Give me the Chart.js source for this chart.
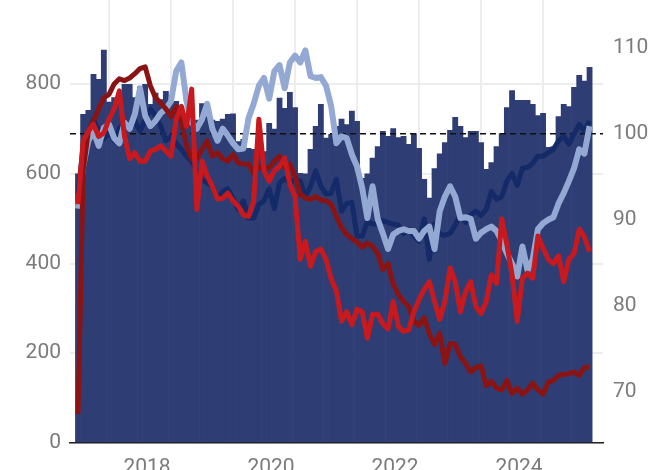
<!DOCTYPE html>
<html>
<head>
<meta charset="utf-8">
<script src="https://cdn.jsdelivr.net/npm/chart.js@4.4.1/dist/chart.umd.min.js"></script>
<style>
  html, body { margin: 0; padding: 0; background: #fff; overflow: hidden; }
  body { width: 664px; height: 470px; position: relative; }
  #wrap { position: absolute; left: 0; top: -28px; width: 664px; height: 520px; }
</style>
</head>
<body>
<div id="wrap"><canvas id="chart"></canvas></div>
<script>
// monthly data, Jan 2017 .. Apr 2025 (index 0 = Jan 2017)
const startYear = 2017;
const yearLabels = ["2018", "2020", "2022", "2024"];
const leftTicks = [0, 200, 400, 600, 800, 1000];
const rightTicks = [70, 80, 90, 100, 110];
const refLevel = 100;

// bars, left axis
const bars = [
  600, 733, 742, 822, 811, 876, 760, 770, 780, 800,
  800, 770, 795, 800, 755, 780, 766, 784, 762, 762,
  750, 730, 745, 720, 757, 728, 720, 717, 722, 733,
  734, 672, 677, 657, 655, 660, 650, 713, 700, 769,
  746, 782, 748, 601, 600, 655, 706, 755, 680, 688,
  706, 722, 710, 740, 717, 590, 600, 635, 661, 695,
  684, 701, 681, 684, 666, 690, 657, 588, 546, 612,
  645, 670, 697, 726, 706, 681, 695, 695, 670, 610,
  625, 661, 690, 748, 786, 764, 764, 764, 755, 730,
  735, 659, 661, 728, 755, 750, 793, 820, 807, 838
];

// lines, right axis
const lightBlue = [
  91.3, 96.2, 99.2, 100.3, 98.6, 100.7, 101.1, 99.5, 98.9, 101.3,
  100.6, 102.3, 105.3, 102.1, 100.9, 101.5, 102.4, 102.9, 103.8, 107.3,
  108.3, 103.8, 101.3, 100.6, 101.7, 103.5, 100.6, 99.2, 100.6, 99.8,
  98.9, 98.2, 98.3, 101.8, 103.5, 105.6, 106.5, 104.1, 107.3, 108,
  105.3, 108.3, 109.1, 108.3, 109.7, 106.7, 106.5, 106.6, 105.6, 103.2,
  98.9, 99.7, 99.5, 97.6, 96.2, 93.7, 90.2, 93.9, 90.1, 88.4,
  86.6, 88.3, 88.7, 88.9, 88.7, 88.7, 87.8, 88.7, 89.2, 86.6,
  91, 92.7, 93.9, 92.7, 90.2, 90.3, 90.1, 87.8, 88.5, 88.9,
  89.2, 88.7, 87.5, 86.1, 84.9, 83.4, 86.9, 84.1, 85.4, 88.9,
  89.6, 90, 90.3, 91.9, 93.1, 94.5, 96, 98.2, 97.7, 100.9
];

const navy = [
  93, 98.6, 99.4, 101.7, 100.3, 99.4, 100.1, 99.2, 100.6, 101.3,
  100.6, 101.5, 100.3, 101.7, 102.9, 102.1, 100.9, 99.2, 99.7, 98.9,
  98.2, 97.4, 96.8, 95.7, 94.7, 94.3, 93.9, 92.5, 93.3, 93.6,
  92.5, 91.2, 92.2, 90.2, 90.2, 91.8, 92.2, 93.6, 91.3, 94.3,
  94.8, 94.3, 94.7, 94.5, 92.7, 93.9, 95.7, 93.9, 93, 93.1,
  94.7, 91, 91.9, 92, 88.1, 88.1, 89.8, 89.5, 89.5, 89.9,
  89.7, 89.5, 89.4, 88.4, 88.9, 88.1, 87.5, 90.1, 85.4, 89.5,
  88.3, 88.2, 88.4, 89.4, 90.6, 89.7, 90.6, 91, 90.5, 91.2,
  93.3, 92.4, 92.7, 94.5, 95.4, 94, 96, 96.1, 96.6, 97.4,
  97.4, 97.8, 98.2, 99.2, 99.7, 98.8, 100, 101.1, 100.3, 101.5
];

const brightRed = [
  91.8, 99.2, 100.3, 101.1, 99.7, 100.1, 101.7, 102.9, 105, 99.7,
  97.1, 97.8, 96.8, 96.8, 98, 98.2, 98.6, 98, 97.4, 101.7,
  103.2, 100.9, 105.2, 91.2, 96.8, 95.1, 93.9, 92.4, 92.5, 93.1,
  92.2, 91.6, 90.6, 90.4, 92.2, 101.7, 95.7, 94.5, 95.7, 96.2,
  97.2, 94.1, 92.7, 85.4, 87.5, 84.6, 86.3, 86.6, 85.4, 83.1,
  81.7, 78.2, 79.3, 77.8, 79.6, 79.3, 76.2, 79, 79, 77.9,
  77.3, 80.5, 77.6, 77, 77.2, 79.3, 80.7, 81.9, 82.8, 80.5,
  78.4, 80.5, 84.4, 82.8, 79.3, 81.6, 82.8, 79.9, 79.1, 80.5,
  83.6, 82.6, 90.1, 87.1, 83.6, 78.2, 83.2, 83.8, 83.2, 88.1,
  86.7, 85.4, 84.9, 85.8, 82.8, 85.4, 86.1, 88.9, 88, 86.3
];

const darkRed = [
  67.4, 95.7, 100.3, 101.5, 102.9, 104.2, 104.6, 105.8, 106.4, 106.2,
  106.5, 107, 107.6, 107.8, 105.6, 104.2, 103.6, 102.9, 102, 103.2,
  101.5, 98.6, 97.1, 97.1, 98.2, 99.2, 97.4, 97.8, 97.1, 96.8,
  97.6, 96.6, 96.5, 96.5, 95.4, 96.2, 95.9, 96.1, 96.8, 97.4,
  96.1, 96.5, 95.1, 93, 92.5, 92.4, 92.7, 92.3, 92.2, 91.8,
  90.4, 89.1, 88.3, 87.8, 87.4, 86.8, 87.3, 86.9, 86.1, 84.2,
  84.9, 82.5, 81.3, 80.5, 79.9, 78.2, 77.7, 78.6, 76.7, 75.5,
  76.8, 73.3, 75.6, 75.5, 74.1, 73.3, 72.3, 72.8, 73, 70.7,
  71.2, 70.4, 70.2, 71.3, 69.8, 70.4, 69.7, 70.2, 71, 70.2,
  69.7, 71.1, 71.3, 71.9, 72, 72.1, 72.3, 71.9, 72.8, 72.9
];

const xMin = -1.55, xMax = 101.6;
const toPoints = arr => arr.map((v, i) => ({ x: i, y: v }));
const font = { family: "Roboto, 'Liberation Sans', sans-serif", size: 21 };
const grey = "#7b7b7b";

function lineSet(data, color, width, order) {
  return {
    type: "line",
    data: toPoints(data),
    yAxisID: "y1",
    borderColor: color,
    borderWidth: width,
    pointRadius: 0,
    tension: 0,
    borderJoinStyle: "round",
    order: order,
  };
}

new Chart(document.getElementById("chart"), {
  type: "bar",
  data: {
    datasets: [
      lineSet(brightRed, "#c8191e", 5, 1),
      lineSet(darkRed, "#8a1414", 5, 2),
      lineSet(lightBlue, "#93a9d3", 6, 3),
      lineSet(navy, "#142a69", 5, 4),
      {
        type: "line",
        data: [{ x: xMin, y: refLevel }, { x: xMax, y: refLevel }],
        yAxisID: "y1",
        borderColor: "#111",
        borderWidth: 1.5,
        borderDash: [6, 4],
        pointRadius: 0,
        order: 5,
      },
      {
        type: "bar",
        data: toPoints(bars),
        yAxisID: "y",
        backgroundColor: "#2e3e74",
        borderWidth: 0,
        barPercentage: 1,
        categoryPercentage: 1,
        order: 6,
      },
    ],
  },
  options: {
    responsive: true,
    maintainAspectRatio: false,
    animation: false,
    layout: { padding: 0 },
    plugins: { legend: { display: false }, tooltip: { enabled: false } },
    scales: {
      x: {
        type: "linear",
        min: xMin,
        max: xMax,
        offset: false,
        afterBuildTicks: s => { s.ticks = []; for (let m = 0; m <= 96; m += 12) s.ticks.push({ value: m }); },
        ticks: {
          callback: v => { const y = String(startYear + Math.round(v / 12)); return yearLabels.includes(y) ? y : ""; },
          font: font,
          color: grey,
          padding: 12,
          labelOffset: 7,
          maxRotation: 0,
          autoSkip: false,
        },
        grid: { color: "#ededed", lineWidth: 2, drawTicks: false },
        border: { display: true, color: "#222", width: 1.5 },
      },
      y: {
        position: "left",
        min: 0,
        max: 1000,
        afterBuildTicks: s => { s.ticks = leftTicks.map(v => ({ value: v })); },
        afterFit: s => { s.width = 70; },
        ticks: { font: font, color: grey, padding: 9, callback: v => String(v) },
        grid: { color: "#ededed", lineWidth: 2, drawTicks: false },
        border: { display: false },
      },
      y1: {
        position: "right",
        min: 64.05,
        max: 116.2,
        afterBuildTicks: s => { s.ticks = rightTicks.map(v => ({ value: v })); },
        afterFit: s => { s.width = 61; },
        ticks: { font: font, color: grey, padding: 10, callback: v => String(v) },
        grid: { display: false, drawTicks: false },
        border: { display: false },
      },
    },
  },
});
</script>
</body>
</html>
